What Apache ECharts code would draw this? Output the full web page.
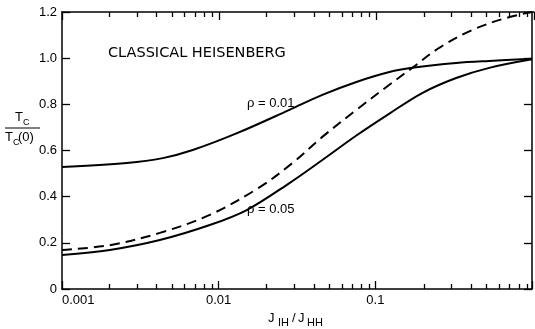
<!DOCTYPE html>
<html>
<head>
<meta charset="utf-8">
<script src="https://cdn.jsdelivr.net/npm/echarts@6/dist/echarts.min.js"></script>
<style>
html, body { margin: 0; padding: 0; background: #fff; }
#main { width: 535px; height: 329px; }
</style>
</head>
<body>
<div id="main"></div>
<script>
// J_IH/J_HH on x (log), Tc/Tc(0) on y
var rho01X = [0.001, 0.00259, 0.0044, 0.00683, 0.0131, 0.0283, 0.0459, 0.0757, 0.123, 0.172, 0.328, 0.533, 1];
var rho01Y = [0.529, 0.546, 0.567, 0.602, 0.675, 0.776, 0.841, 0.897, 0.940, 0.958, 0.979, 0.988, 0.997];

var rho05X = [0.001, 0.00202, 0.00421, 0.00877, 0.0151, 0.0283, 0.0459, 0.0757, 0.123, 0.199, 0.328, 0.533, 1];
var rho05Y = [0.147, 0.169, 0.212, 0.277, 0.342, 0.459, 0.559, 0.665, 0.760, 0.849, 0.914, 0.958, 0.995];

var dashX = [0.001, 0.00202, 0.00421, 0.00877, 0.0182, 0.0296, 0.0459, 0.0757, 0.123, 0.172, 0.256, 0.415, 0.683, 1];
var dashY = [0.169, 0.190, 0.243, 0.321, 0.440, 0.546, 0.659, 0.776, 0.885, 0.958, 1.045, 1.122, 1.174, 1.2];

var xLabels = [0.001, 0.01, 0.1];
var minorTicks = [0.002, 0.003, 0.004, 0.005, 0.006, 0.007, 0.008, 0.009,
                  0.02, 0.03, 0.04, 0.05, 0.06, 0.07, 0.08, 0.09,
                  0.2, 0.3, 0.4, 0.5, 0.6, 0.7, 0.8, 0.9];

var FONT = '"Liberation Sans", Arial, sans-serif';
var WIDE = '"DejaVu Sans", sans-serif';

function pairs(xs, ys) {
	var out = [];
	for (var i = 0; i < xs.length; i++) {
		out.push([xs[i], ys[i]]);
	}
	return out;
}

function txt(str, x, y, size, family) {
	return {
		type: 'text', left: x, top: y,
		style: { text: str, fill: '#000', font: size + 'px ' + (family || FONT) }
	};
}

var dom = document.getElementById('main');
var myChart = echarts.init(dom, null, { renderer: 'canvas' });

// same box for every grid; one x axis per grid so positions never clash
function box() {
	return { left: 62, right: 1, top: 12, bottom: 40, containLabel: false };
}

function hiddenY(g) {
	return { type: 'value', min: 0, max: 1.2, gridIndex: g, show: false };
}

var logMajor = {
	type: 'log', logBase: 10, min: 0.001, max: 1,
	axisLine: { show: true, onZero: false, lineStyle: { color: '#000', width: 1.5 } },
	axisTick: { show: true, inside: true, length: 8, lineStyle: { color: '#000', width: 1.3 } },
	splitLine: { show: false },
	minorTick: { show: false }
};

// minor ticks 2..9 per decade: linear axis in log10 units
var logMinor = {
	type: 'value', min: -3, max: 0,
	axisLine: { show: false, onZero: false },
	axisTick: {
		show: true, inside: true, length: 5,
		customValues: minorTicks.map(function (v) { return Math.log10(v); }),
		lineStyle: { color: '#000', width: 1.3 }
	},
	axisLabel: { show: false },
	splitLine: { show: false }
};

var option = {
	animation: false,
	backgroundColor: '#fff',
	grid: [box(), box(), box(), box()],
	xAxis: [
		Object.assign({}, logMajor, {
			gridIndex: 0, position: 'bottom',
			axisLabel: {
				show: true, color: '#000', fontSize: 13, fontFamily: FONT, margin: 5,
				alignMinLabel: 'left',
				formatter: function (v) {
					return xLabels.indexOf(+v.toPrecision(3)) >= 0 ? String(+v.toPrecision(3)) : '';
				}
			}
		}),
		Object.assign({}, logMajor, { gridIndex: 1, position: 'top', axisLabel: { show: false } }),
		Object.assign({}, logMinor, { gridIndex: 2, position: 'bottom' }),
		Object.assign({}, logMinor, { gridIndex: 3, position: 'top' })
	],
	yAxis: [
		{
			type: 'value', min: 0, max: 1.2, interval: 0.2, position: 'left', gridIndex: 0,
			axisLine: { show: true, onZero: false, lineStyle: { color: '#000', width: 1.5 } },
			axisTick: { show: true, inside: true, length: 8, lineStyle: { color: '#000', width: 1.3 } },
			axisLabel: {
				color: '#000', fontSize: 13, fontFamily: FONT, margin: 5,
				formatter: function (v) { return v === 0 ? '0' : v.toFixed(1); }
			},
			splitLine: { show: false }
		},
		{
			type: 'value', min: 0, max: 1.2, interval: 0.2, position: 'right', gridIndex: 0,
			axisLine: { show: true, onZero: false, lineStyle: { color: '#000', width: 1.5 } },
			axisTick: { show: true, inside: true, length: 8, lineStyle: { color: '#000', width: 1.3 } },
			axisLabel: { show: false },
			splitLine: { show: false }
		},
		hiddenY(1), hiddenY(2), hiddenY(3)
	],
	series: [
		{
			name: 'rho=0.01', type: 'line', xAxisIndex: 0, yAxisIndex: 0,
			data: pairs(rho01X, rho01Y), smooth: 0.35, showSymbol: false,
			lineStyle: { color: '#000', width: 2 }
		},
		{
			name: 'rho=0.05', type: 'line', xAxisIndex: 0, yAxisIndex: 0,
			data: pairs(rho05X, rho05Y), smooth: 0.35, showSymbol: false,
			lineStyle: { color: '#000', width: 2 }
		},
		{
			name: 'dashed', type: 'line', xAxisIndex: 0, yAxisIndex: 0,
			data: pairs(dashX, dashY), smooth: 0.35, showSymbol: false,
			lineStyle: { color: '#000', width: 2, type: [10, 6] }
		}
	],
	graphic: [
		txt('CLASSICAL HEISENBERG', 108, 46, 14.5, WIDE),
		txt('\u03c1 = 0.01', 247, 97, 13),
		txt('\u03c1 = 0.05', 247, 203, 13),
		// y name: Tc / Tc(0)
		txt('T', 15, 111, 13),
		txt('C', 23, 118, 9),
		{ type: 'line', shape: { x1: 5, y1: 128, x2: 40, y2: 128 }, style: { stroke: '#000', lineWidth: 1.2 } },
		txt('T', 5, 131, 13),
		txt('C', 13, 138, 9),
		txt('(0)', 18, 131, 13),
		// x name: J_IH / J_HH
		txt('J', 268, 312, 13),
		txt('IH', 278, 317, 11),
		txt('/', 292, 312, 13),
		txt('J', 298, 312, 13),
		txt('HH', 307, 317, 11)
	]
};

if (option && typeof option === 'object') {
	myChart.setOption(option, true);
}
</script>
</body>
</html>
